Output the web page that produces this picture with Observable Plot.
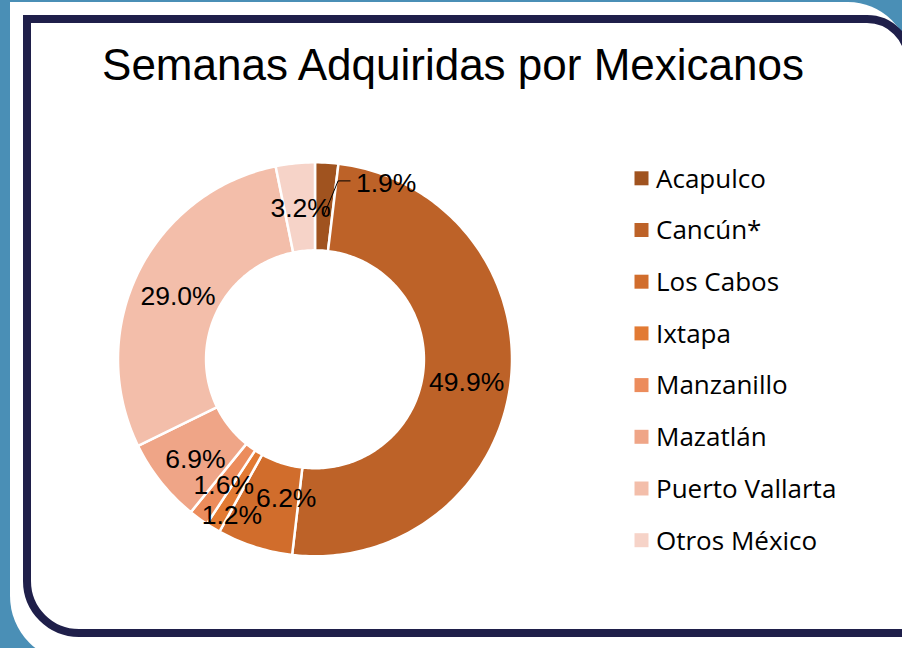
<!DOCTYPE html>
<html>
<head>
<meta charset="utf-8">
<script src="https://cdn.jsdelivr.net/npm/d3@7"></script>
<script src="https://cdn.jsdelivr.net/npm/@observablehq/plot@0.6"></script>
<style>
  html, body { margin: 0; padding: 0; }
  body { width: 902px; height: 648px; overflow: hidden; background: #4A8FB6; position: relative; }
  #paper { position: absolute; left: 10px; top: 2px; width: 900px; height: 660px; background: #fff;
           border-radius: 0 62px 0 66px; }
  #frame { position: absolute; left: 23px; top: 15px; width: 890px; height: 622px; box-sizing: border-box;
           border: 8px solid #1F1F4A; border-radius: 0 46px 0 56px; }
  #title { position: absolute; left: 0; top: 43px; width: 906px; text-align: center;
           font-family: "Liberation Sans", Arial, sans-serif; font-size: 44px; line-height: 44px; color: #000; }
  #chart { position: absolute; left: 0; top: 0; }
  #chart svg { background: transparent !important; }
</style>
</head>
<body>
<div id="paper"></div>
<div id="frame"></div>
<div id="title">Semanas Adquiridas por Mexicanos</div>
<div id="chart"></div>
<script>
// ---- data ----
const names = ["Acapulco", "Cancún*", "Los Cabos", "Ixtapa", "Manzanillo", "Mazatlán", "Puerto Vallarta", "Otros México"];
const shares = [1.9, 49.9, 6.2, 1.2, 1.6, 6.9, 29.0, 3.2];
const labels = ["1.9%", "49.9%", "6.2%", "1.2%", "1.6%", "6.9%", "29.0%", "3.2%"];
const colors = ["#A0531F", "#BD6228", "#D16D2C", "#E27A33", "#EC8C5C", "#EFA587", "#F3BEAA", "#F6D3C8"];

// ---- layout ----
const W = 902, H = 648;
const CX = 314.5, CY = 358.8, R = 197;   // donut centre and outer radius (px)
const INNER = 0.553;                     // inner radius as a fraction of outer
const LABEL_R = 0.775;
const toX = px => (px - CX) / R;
const toY = py => (CY - py) / R;
const labelNudge = {               // px offsets for crowded labels
  "Acapulco": [62, -23],
  "Ixtapa": [-4, 26],
  "Manzanillo": [-1, 3],
  "Los Cabos": [18, -6],
  "Otros México": [1, 1]
};
const LEGEND_X = 641, LEGEND_TOP = 177.8, LEGEND_STEP = 51.7, LEGEND_TEXT_X = 655.5, SWATCH = 14;

// ---- pie geometry ----
const total = d3.sum(shares);
let acc = 0;
const slices = names.map((name, i) => {
  const a0 = acc / total * 2 * Math.PI;
  acc += shares[i];
  const a1 = acc / total * 2 * Math.PI;
  return {name, label: labels[i], a0, a1, mid: (a0 + a1) / 2};
});
const pt = (a, r) => ({x: r * Math.sin(a), y: r * Math.cos(a)});
const rings = slices.flatMap(s => {
  const n = Math.max(2, Math.ceil((s.a1 - s.a0) / (Math.PI / 180)));
  const out = [];
  for (let k = 0; k <= n; k++) out.push({name: s.name, ...pt(s.a0 + (s.a1 - s.a0) * k / n, 1)});
  for (let k = n; k >= 0; k--) out.push({name: s.name, ...pt(s.a0 + (s.a1 - s.a0) * k / n, INNER)});
  return out;
});
const labelPts = slices.map(s => {
  const c = pt(s.mid, LABEL_R);
  const [dx, dy] = labelNudge[s.name] || [0, 5];
  return {label: s.label, x: c.x + dx / R, y: c.y - dy / R};
});
// leader line for the Acapulco label
const aca = slices[0];
const acaLabel = labelPts[0];
const start = pt(aca.mid, 0.73);
const endX = acaLabel.x - 36 / R, endY = acaLabel.y + 3 / R;
const leader = [start, {x: endX - 12 / R, y: endY}, {x: endX, y: endY}];

const legendRows = names.map((name, i) => ({name, x: toX(LEGEND_X), tx: toX(LEGEND_TEXT_X), y: toY(LEGEND_TOP + i * LEGEND_STEP)}));

const chart = Plot.plot({
  width: W, height: H,
  margin: 0,
  x: {domain: [-1, 1], range: [CX - R, CX + R], axis: null},
  y: {domain: [-1, 1], range: [CY + R, CY - R], axis: null},
  color: {domain: names, range: colors},
  style: {background: "transparent"},
  marks: [
    Plot.line(rings, {x: "x", y: "y", z: "name", fill: "name", stroke: "white", strokeWidth: 2.5, curve: "linear-closed"}),
    Plot.line(leader, {x: "x", y: "y", stroke: "black", strokeWidth: 1}),
    Plot.text(labelPts, {x: "x", y: "y", text: "label", fontSize: 26.5, fontFamily: "Liberation Sans, Arial, sans-serif", fill: "black"}),
    Plot.dot(legendRows, {x: "x", y: "y", fill: "name", symbol: "square", r: SWATCH / Math.sqrt(Math.PI), stroke: null}),
    Plot.text(legendRows, {x: "tx", y: "y", text: "name", textAnchor: "start", dy: 1, fontSize: 26, fontFamily: "Open Sans, sans-serif", fill: "black"})
  ]
});
document.getElementById("chart").appendChild(chart);
</script>
</body>
</html>
